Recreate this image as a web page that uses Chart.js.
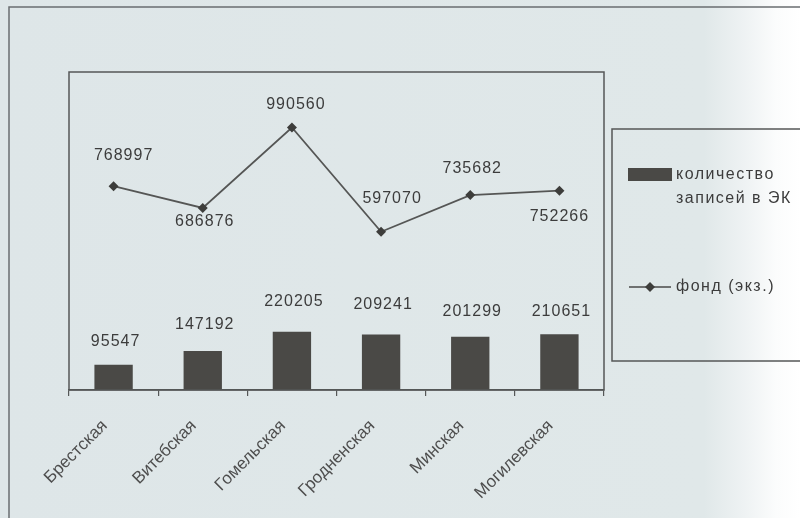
<!DOCTYPE html>
<html><head><meta charset="utf-8">
<script src="https://cdn.jsdelivr.net/npm/chart.js@4.4.0/dist/chart.umd.min.js"></script>
<style>
html,body{margin:0;padding:0;}
body{width:800px;height:518px;overflow:hidden;background:linear-gradient(90deg,#dee6e8 0%,#e0e8e9 88%,#eef2f3 93%,#fbfcfc 97%,#ffffff 100%);}
#wrap{position:relative;width:800px;height:518px;}
</style></head>
<body><div id="wrap"><canvas id="c" width="800" height="518"></canvas></div>
<script>
const categories = ['Брестская','Витебская','Гомельская','Гродненская','Минская','Могилевская'];
const recordsEK = [95547, 147192, 220205, 209241, 201299, 210651];
const fundCopies = [768997, 686876, 990560, 597070, 735682, 752266];
const seriesNames = ['количество записей в ЭК', 'фонд (экз.)'];
const legendLines = [['количество', 'записей в ЭК'], ['фонд (экз.)']];

// label placement (style only)
const lineLabelOffsets = [[10,-31],[2,14],[4,-23],[11,-33],[2,-26],[0,26]];
const barLabelOffsets = [[2,-23],[2,-26],[2,-30],[2,-30],[2,-25],[2,-23]];

const INK = '#4a4a48';
const FONT = '"Liberation Sans", Arial, sans-serif';

const decor = {
  id: 'decor',
  beforeDraw(chart) {
    const ctx = chart.ctx;
    ctx.save();
    ctx.strokeStyle = '#6a6e70';
    ctx.lineWidth = 1.5;
    ctx.strokeRect(9, 7, 830, 560);
    ctx.restore();
  },
  afterDraw(chart) {
    const ctx = chart.ctx;
    const a = chart.chartArea;
    ctx.save();
    // plot box
    ctx.strokeStyle = '#555757';
    ctx.lineWidth = 1.5;
    ctx.strokeRect(a.left, a.top, a.right - a.left, a.bottom - a.top);
    // data labels
    ctx.fillStyle = '#3c3c3c';
    ctx.font = '16px ' + FONT;
    ctx.letterSpacing = '1px';
    ctx.textAlign = 'center';
    ctx.textBaseline = 'middle';
    const barMeta = chart.getDatasetMeta(0);
    barMeta.data.forEach((el, i) => {
      const o = barLabelOffsets[i];
      ctx.fillText(String(recordsEK[i]), el.x + o[0], el.y + o[1]);
    });
    const lineMeta = chart.getDatasetMeta(1);
    lineMeta.data.forEach((el, i) => {
      const o = lineLabelOffsets[i];
      ctx.fillText(String(fundCopies[i]), el.x + o[0], el.y + o[1]);
    });
    // legend box
    ctx.letterSpacing = '0px';
    ctx.strokeStyle = '#555757';
    ctx.lineWidth = 1.5;
    ctx.strokeRect(612, 129, 230, 232);
    ctx.fillStyle = '#4a4946';
    ctx.fillRect(628, 168, 44, 13);
    ctx.fillStyle = '#3c3c3c';
    ctx.font = '16px ' + FONT;
    ctx.letterSpacing = '1.5px';
    ctx.textAlign = 'left';
    ctx.fillText(legendLines[0][0], 676, 175);
    ctx.fillText(legendLines[0][1], 676, 199);
    ctx.strokeStyle = INK;
    ctx.lineWidth = 1.5;
    ctx.beginPath(); ctx.moveTo(629, 287); ctx.lineTo(671, 287); ctx.stroke();
    ctx.fillStyle = '#3d3d3b';
    ctx.beginPath();
    ctx.moveTo(650, 282); ctx.lineTo(655, 287); ctx.lineTo(650, 292); ctx.lineTo(645, 287); ctx.closePath(); ctx.fill();
    ctx.fillStyle = '#3c3c3c';
    ctx.fillText(legendLines[1][0], 676, 287);
    ctx.letterSpacing = '0px';
    ctx.restore();
  }
};

new Chart(document.getElementById('c'), {
  type: 'bar',
  data: {
    labels: categories,
    datasets: [
      { type: 'bar', label: seriesNames[0], data: recordsEK, backgroundColor: '#4a4946',
        borderColor: '#3a3a38', borderWidth: 0, categoryPercentage: 1.0, barPercentage: 0.43, order: 2 },
      { type: 'line', label: seriesNames[1], data: fundCopies, borderColor: '#555655', borderWidth: 1.8,
        pointStyle: 'rectRot', pointRadius: 5, pointBackgroundColor: '#3d3d3b', pointBorderColor: '#3d3d3b',
        pointBorderWidth: 0, tension: 0, fill: false, order: 1 }
    ]
  },
  options: {
    responsive: false,
    animation: false,
    devicePixelRatio: 1,
    layout: { padding: { left: 69, top: 72, right: 196, bottom: 0 } },
    plugins: { legend: { display: false }, tooltip: { enabled: false } },
    scales: {
      y: { display: false, min: 0, max: 1200000 },
      x: {
        offset: true,
        grid: { offset: true, drawOnChartArea: false, drawTicks: true, tickLength: 6, color: '#555757', lineWidth: 1.2 },
        border: { display: true, color: '#555757', width: 1.5 },
        ticks: { maxRotation: 45, minRotation: 45, color: '#4e4e4e', font: { family: FONT, size: 17 }, padding: 20, labelOffset: -9 },
        afterFit(scale) { scale.height = 128; }
      }
    }
  },
  plugins: [decor]
});
</script>
</body></html>
